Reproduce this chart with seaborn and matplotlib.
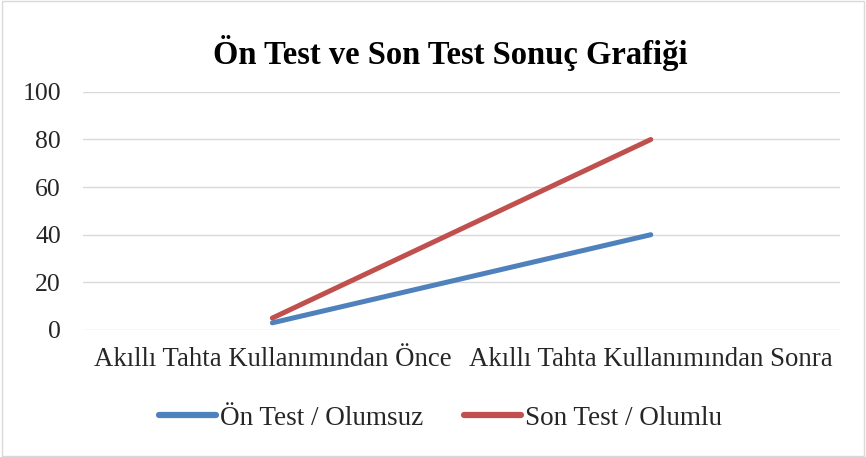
import matplotlib
matplotlib.use("Agg")
import matplotlib.pyplot as plt
import seaborn as sns
import pandas as pd
from matplotlib.lines import Line2D

categories = ["Akıllı Tahta Kullanımından Önce", "Akıllı Tahta Kullanımından Sonra"]
on_test = [3, 40]
son_test = [5, 80]
series_names = ["Ön Test / Olumsuz", "Son Test / Olumlu"]
yticks = [0, 20, 40, 60, 80, 100]

sns.set_theme(style="white")
plt.rcParams["font.family"] = ["Liberation Serif", "DejaVu Serif"]

df = pd.DataFrame({
    "x": list(range(len(categories))) * 2,
    "y": on_test + son_test,
    "series": [series_names[0]] * len(categories) + [series_names[1]] * len(categories),
})

fig = plt.figure(figsize=(8.66, 4.57), dpi=100)
ax = fig.add_axes([0.096, 0.278, 0.874, 0.521])
sns.lineplot(data=df, x="x", y="y", hue="series",
             palette=["#4F81BD", "#C0504D"], linewidth=3.6, ax=ax,
             legend=False, solid_capstyle="round")

ax.set_xlim(-0.5, len(categories) - 0.5)
ax.set_ylim(0, 100)
ax.set_yticks(yticks)
ax.set_xticks(range(len(categories)))
ax.set_xticklabels(categories, fontsize=19.3, color="#262626")
ax.tick_params(axis="y", labelsize=18.5, labelcolor="#262626", length=0, pad=16)
ax.tick_params(axis="x", length=0, pad=12)
ax.set_xlabel("")
ax.set_ylabel("")
ax.grid(axis="y", color="#D9D9D9", linewidth=1)
for s in ax.spines.values():
    s.set_visible(False)

fig.text(0.52, 0.885, "Ön Test ve Son Test Sonuç Grafiği", ha="center", va="center",
         fontsize=23.5, fontweight="bold", color="#000000")

handles = [Line2D([0], [0], color="#4F81BD", lw=4.5, solid_capstyle="round"),
           Line2D([0], [0], color="#C0504D", lw=4.5, solid_capstyle="round")]
fig.legend(handles, series_names, loc="center", bbox_to_anchor=(0.509, 0.085), ncol=2,
           frameon=False, fontsize=19.5, handlelength=2.1, handletextpad=0.15,
           columnspacing=1.5, labelcolor="#262626")

border = plt.Rectangle((0.002, 0.002), 0.996, 0.996, transform=fig.transFigure,
                       fill=False, edgecolor="#D9D9D9", linewidth=1)
fig.patches.append(border)

fig.savefig("out.png", dpi=100)
